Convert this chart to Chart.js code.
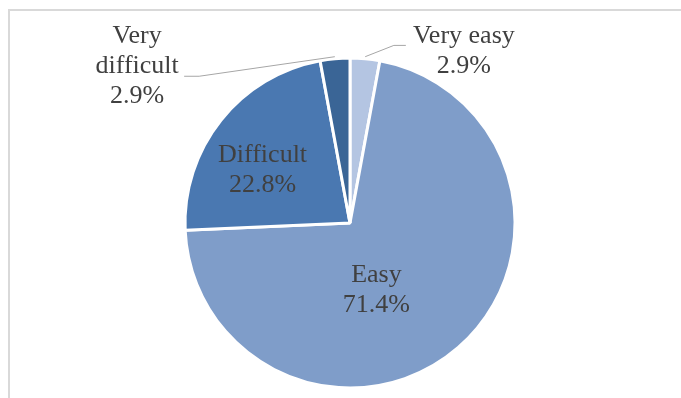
<!DOCTYPE html>
<html>
<head>
<meta charset="utf-8">
<script src="https://cdn.jsdelivr.net/npm/chart.js@4/dist/chart.umd.min.js"></script>
<style>
  body { margin: 0; background: #fff; }
  #wrap { position: relative; width: 681px; height: 398px; overflow: hidden; }
  #frame { position: absolute; left: 8px; top: 9px; width: 700px; height: 420px; border: 2px solid #d9d9d9; }
  canvas { position: absolute; left: 0; top: 0; }
</style>
</head>
<body>
<div id="wrap">
  <div id="frame"></div>
  <canvas id="myPieChart" width="681" height="398"></canvas>
</div>
<script>
const categories = ['Very easy', 'Easy', 'Difficult', 'Very difficult'];
const values = [2.9, 71.4, 22.8, 2.9];
const labelLines = [['Very easy', '2.9%'], ['Easy', '71.4%'], ['Difficult', '22.8%'], ['Very', 'difficult', '2.9%']];
const colors = ['#b4c5e2', '#7f9dc9', '#4a78b1', '#3a6596'];

// label block centre, relative to pie centre in units of radius
const labelPos = [[0.69, -1.04], [0.16, 0.41], [-0.53, -0.32], [-1.29, -0.95]];
// leader lines: [elbow dx, dy, end dx, dy] from label centre, null = inside label
const leaders = [[-70, -6, -58, -6], null, null, [62, 10, 47, 10]];

const pieLabels = {
    id: 'pieLabels',
    afterDatasetsDraw(chart) {
        const ctx = chart.ctx;
        const arcs = chart.getDatasetMeta(0).data;
        ctx.save();
        ctx.font = '26px "Liberation Serif", "Times New Roman", serif';
        ctx.fillStyle = '#404040';
        ctx.textAlign = 'center';
        ctx.textBaseline = 'middle';
        arcs.forEach((arc, i) => {
            const r = arc.outerRadius;
            const cx = arc.x + labelPos[i][0] * r;
            const cy = arc.y + labelPos[i][1] * r;
            const lines = labelLines[i];
            const lh = 30;
            lines.forEach((t, j) => {
                ctx.fillText(t, cx, cy + (j - (lines.length - 1) / 2) * lh);
            });
            if (leaders[i]) {
                const mid = (arc.startAngle + arc.endAngle) / 2;
                const sx = arc.x + Math.cos(mid) * (r + 2);
                const sy = arc.y + Math.sin(mid) * (r + 2);
                ctx.beginPath();
                ctx.strokeStyle = '#a6a6a6';
                ctx.lineWidth = 1;
                ctx.moveTo(sx, sy);
                ctx.lineTo(cx + leaders[i][0], cy + leaders[i][1]);
                ctx.lineTo(cx + leaders[i][2], cy + leaders[i][3]);
                ctx.stroke();
            }
        });
        ctx.restore();
    }
};

new Chart(document.getElementById('myPieChart').getContext('2d'), {
    type: 'pie',
    data: {
        labels: categories,
        datasets: [{
            data: values,
            backgroundColor: colors,
            borderColor: '#ffffff',
            borderWidth: 3
        }]
    },
    options: {
        responsive: false,
        animation: false,
        radius: 165,
        layout: { padding: { left: 19, right: 0, top: 48, bottom: 0 } },
        plugins: {
            legend: { display: false },
            tooltip: { enabled: false }
        }
    },
    plugins: [pieLabels]
});
</script>
</body>
</html>
